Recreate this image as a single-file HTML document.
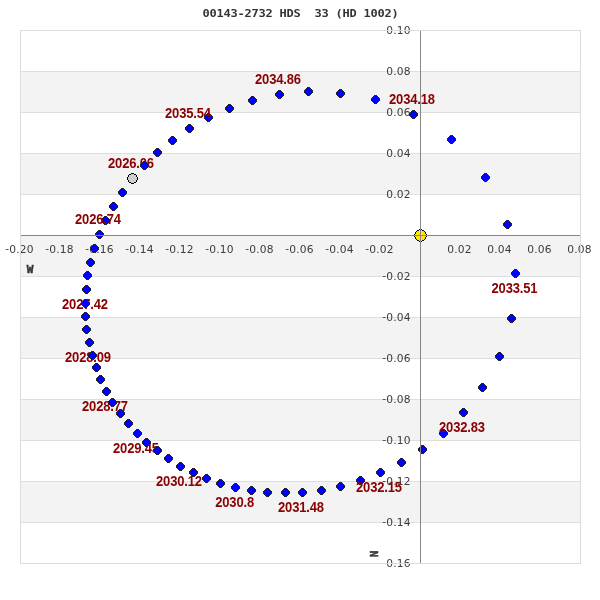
<!DOCTYPE html>
<html lang="en"><head><meta charset="utf-8"><title>00143-2732 HDS 33 (HD 1002)</title>
<style>
html,body{margin:0;padding:0;background:#fff;}
body{width:600px;height:600px;overflow:hidden;}
svg{display:block;}
.ax{font-family:"DejaVu Sans","Liberation Sans",sans-serif;font-size:10.67px;fill:#3c3c3c;letter-spacing:0.15px;}
.dl{font-family:"Liberation Sans",Arial,sans-serif;font-weight:bold;font-size:14px;fill:#8b0000;letter-spacing:-0.163px;}
.tt{font-family:"DejaVu Sans Mono","Liberation Mono",monospace;font-weight:bold;font-size:12px;fill:#333;letter-spacing:-0.225px;white-space:pre;}
.nw{font-family:"DejaVu Sans Mono","Liberation Mono",monospace;font-weight:bold;font-size:11px;fill:#333;stroke:#333;stroke-width:.45px;}
.d{fill:#0000ff;stroke:#1c1c08;stroke-opacity:.8;stroke-width:.8;}
</style></head><body>
<svg width="600" height="600" viewBox="0 0 600 600">
<defs><g id="dm" shape-rendering="crispEdges"><rect x="-1.5" y="-4.5" width="3" height="1" fill="#28281a"/><rect x="-2.5" y="-3.5" width="5" height="1" fill="#28281a"/><rect x="-3.5" y="-2.5" width="7" height="1" fill="#28281a"/><rect x="-4.5" y="-1.5" width="9" height="1" fill="#28281a"/><rect x="-4.5" y="-0.5" width="9" height="1" fill="#28281a"/><rect x="-4.5" y="0.5" width="9" height="1" fill="#28281a"/><rect x="-3.5" y="1.5" width="7" height="1" fill="#28281a"/><rect x="-2.5" y="2.5" width="5" height="1" fill="#28281a"/><rect x="-1.5" y="3.5" width="3" height="1" fill="#28281a"/><rect x="-1.5" y="-3.5" width="3" height="1" fill="#0000ff"/><rect x="-2.5" y="-2.5" width="5" height="1" fill="#0000ff"/><rect x="-3.5" y="-1.5" width="7" height="1" fill="#0000ff"/><rect x="-3.5" y="-0.5" width="7" height="1" fill="#0000ff"/><rect x="-3.5" y="0.5" width="7" height="1" fill="#0000ff"/><rect x="-2.5" y="1.5" width="5" height="1" fill="#0000ff"/><rect x="-1.5" y="2.5" width="3" height="1" fill="#0000ff"/><rect x="-1.5" y="-4.5" width="3" height="1" fill="#0000ff" fill-opacity=".12"/><rect x="-1.5" y="3.5" width="3" height="1" fill="#0000ff" fill-opacity=".12"/><rect x="-4.5" y="-1.5" width="1" height="3" fill="#0000ff" fill-opacity=".12"/><rect x="3.5" y="-1.5" width="1" height="3" fill="#0000ff" fill-opacity=".12"/></g><g id="c6" shape-rendering="crispEdges"><rect x="-1.5" y="-6.5" width="3" height="1" fill="#0c0c18"/><rect x="-3.5" y="-5.5" width="7" height="1" fill="#0c0c18"/><rect x="-4.5" y="-4.5" width="9" height="1" fill="#0c0c18"/><rect x="-5.5" y="-3.5" width="11" height="1" fill="#0c0c18"/><rect x="-5.5" y="-2.5" width="11" height="1" fill="#0c0c18"/><rect x="-6.5" y="-1.5" width="13" height="1" fill="#0c0c18"/><rect x="-6.5" y="-0.5" width="13" height="1" fill="#0c0c18"/><rect x="-6.5" y="0.5" width="13" height="1" fill="#0c0c18"/><rect x="-5.5" y="1.5" width="11" height="1" fill="#0c0c18"/><rect x="-5.5" y="2.5" width="11" height="1" fill="#0c0c18"/><rect x="-4.5" y="3.5" width="9" height="1" fill="#0c0c18"/><rect x="-3.5" y="4.5" width="7" height="1" fill="#0c0c18"/><rect x="-1.5" y="5.5" width="3" height="1" fill="#0c0c18"/><rect x="-1.5" y="-5.5" width="3" height="1" fill="#ffe600"/><rect x="-3.5" y="-4.5" width="7" height="1" fill="#ffe600"/><rect x="-4.5" y="-3.5" width="9" height="1" fill="#ffe600"/><rect x="-4.5" y="-2.5" width="9" height="1" fill="#ffe600"/><rect x="-5.5" y="-1.5" width="11" height="1" fill="#ffe600"/><rect x="-5.5" y="-0.5" width="11" height="1" fill="#ffe600"/><rect x="-5.5" y="0.5" width="11" height="1" fill="#ffe600"/><rect x="-4.5" y="1.5" width="9" height="1" fill="#ffe600"/><rect x="-4.5" y="2.5" width="9" height="1" fill="#ffe600"/><rect x="-3.5" y="3.5" width="7" height="1" fill="#ffe600"/><rect x="-1.5" y="4.5" width="3" height="1" fill="#ffe600"/></g><g id="c5" shape-rendering="crispEdges"><rect x="-1.5" y="-5.5" width="3" height="1" fill="#000"/><rect x="-3.5" y="-4.5" width="7" height="1" fill="#000"/><rect x="-4.5" y="-3.5" width="9" height="1" fill="#000"/><rect x="-4.5" y="-2.5" width="9" height="1" fill="#000"/><rect x="-5.5" y="-1.5" width="11" height="1" fill="#000"/><rect x="-5.5" y="-0.5" width="11" height="1" fill="#000"/><rect x="-5.5" y="0.5" width="11" height="1" fill="#000"/><rect x="-4.5" y="1.5" width="9" height="1" fill="#000"/><rect x="-4.5" y="2.5" width="9" height="1" fill="#000"/><rect x="-3.5" y="3.5" width="7" height="1" fill="#000"/><rect x="-1.5" y="4.5" width="3" height="1" fill="#000"/><rect x="-1.5" y="-4.5" width="3" height="1" fill="#d2cecd"/><rect x="-3.5" y="-3.5" width="7" height="1" fill="#d2cecd"/><rect x="-3.5" y="-2.5" width="7" height="1" fill="#d2cecd"/><rect x="-4.5" y="-1.5" width="9" height="1" fill="#d2cecd"/><rect x="-4.5" y="-0.5" width="9" height="1" fill="#d2cecd"/><rect x="-4.5" y="0.5" width="9" height="1" fill="#d2cecd"/><rect x="-3.5" y="1.5" width="7" height="1" fill="#d2cecd"/><rect x="-3.5" y="2.5" width="7" height="1" fill="#d2cecd"/><rect x="-1.5" y="3.5" width="3" height="1" fill="#d2cecd"/></g></defs>
<rect x="0" y="0" width="600" height="600" fill="#fff"/>
<rect x="20" y="71" width="561" height="41" fill="#f3f3f3"/>
<rect x="20" y="153" width="561" height="41" fill="#f3f3f3"/>
<rect x="20" y="235" width="561" height="41" fill="#f3f3f3"/>
<rect x="20" y="317" width="561" height="41" fill="#f3f3f3"/>
<rect x="20" y="399" width="561" height="41" fill="#f3f3f3"/>
<rect x="20" y="481" width="561" height="41" fill="#f3f3f3"/>
<rect x="20" y="71" width="561" height="1" fill="#dedede"/>
<rect x="20" y="112" width="561" height="1" fill="#dedede"/>
<rect x="20" y="153" width="561" height="1" fill="#dedede"/>
<rect x="20" y="194" width="561" height="1" fill="#dedede"/>
<rect x="20" y="276" width="561" height="1" fill="#dedede"/>
<rect x="20" y="317" width="561" height="1" fill="#dedede"/>
<rect x="20" y="358" width="561" height="1" fill="#dedede"/>
<rect x="20" y="399" width="561" height="1" fill="#dedede"/>
<rect x="20" y="440" width="561" height="1" fill="#dedede"/>
<rect x="20" y="481" width="561" height="1" fill="#dedede"/>
<rect x="20" y="522" width="561" height="1" fill="#dedede"/>
<text class="tt" transform="translate(202.6,17) scale(1,0.91)" xml:space="preserve">00143-2732 HDS  33 (HD 1002)</text>
<text class="ax" x="19.5" y="253" text-anchor="middle"><tspan dy="-0.7">-</tspan><tspan dy="0.7">0.20</tspan></text>
<text class="ax" x="59.5" y="253" text-anchor="middle"><tspan dy="-0.7">-</tspan><tspan dy="0.7">0.18</tspan></text>
<text class="ax" x="99.5" y="253" text-anchor="middle"><tspan dy="-0.7">-</tspan><tspan dy="0.7">0.16</tspan></text>
<text class="ax" x="139.5" y="253" text-anchor="middle"><tspan dy="-0.7">-</tspan><tspan dy="0.7">0.14</tspan></text>
<text class="ax" x="179.5" y="253" text-anchor="middle"><tspan dy="-0.7">-</tspan><tspan dy="0.7">0.12</tspan></text>
<text class="ax" x="219.5" y="253" text-anchor="middle"><tspan dy="-0.7">-</tspan><tspan dy="0.7">0.10</tspan></text>
<text class="ax" x="259.5" y="253" text-anchor="middle"><tspan dy="-0.7">-</tspan><tspan dy="0.7">0.08</tspan></text>
<text class="ax" x="299.5" y="253" text-anchor="middle"><tspan dy="-0.7">-</tspan><tspan dy="0.7">0.06</tspan></text>
<text class="ax" x="339.5" y="253" text-anchor="middle"><tspan dy="-0.7">-</tspan><tspan dy="0.7">0.04</tspan></text>
<text class="ax" x="379.5" y="253" text-anchor="middle"><tspan dy="-0.7">-</tspan><tspan dy="0.7">0.02</tspan></text>
<text class="ax" x="459.5" y="253" text-anchor="middle">0.02</text>
<text class="ax" x="499.5" y="253" text-anchor="middle">0.04</text>
<text class="ax" x="539.5" y="253" text-anchor="middle">0.06</text>
<text class="ax" x="579.5" y="253" text-anchor="middle">0.08</text>
<text class="ax" x="410.6" y="567" text-anchor="end"><tspan dy="-0.7">-</tspan><tspan dy="0.7">0.16</tspan></text>
<text class="ax" x="410.6" y="526" text-anchor="end"><tspan dy="-0.7">-</tspan><tspan dy="0.7">0.14</tspan></text>
<text class="ax" x="410.6" y="485" text-anchor="end"><tspan dy="-0.7">-</tspan><tspan dy="0.7">0.12</tspan></text>
<text class="ax" x="410.6" y="444" text-anchor="end"><tspan dy="-0.7">-</tspan><tspan dy="0.7">0.10</tspan></text>
<text class="ax" x="410.6" y="403" text-anchor="end"><tspan dy="-0.7">-</tspan><tspan dy="0.7">0.08</tspan></text>
<text class="ax" x="410.6" y="362" text-anchor="end"><tspan dy="-0.7">-</tspan><tspan dy="0.7">0.06</tspan></text>
<text class="ax" x="410.6" y="321" text-anchor="end"><tspan dy="-0.7">-</tspan><tspan dy="0.7">0.04</tspan></text>
<text class="ax" x="410.6" y="280" text-anchor="end"><tspan dy="-0.7">-</tspan><tspan dy="0.7">0.02</tspan></text>
<text class="ax" x="410.6" y="198" text-anchor="end">0.02</text>
<text class="ax" x="410.6" y="157" text-anchor="end">0.04</text>
<text class="ax" x="410.6" y="116" text-anchor="end">0.06</text>
<text class="ax" x="410.6" y="75" text-anchor="end">0.08</text>
<text class="ax" x="410.6" y="34" text-anchor="end">0.10</text>
<text class="nw" x="26.7" y="273">W</text>
<text class="nw" transform="translate(378,557.3) rotate(-90)">N</text>
<use href="#c6" x="420.5" y="235.5"/>
<use href="#c5" x="132.5" y="178.5"/>
<text class="dl" transform="translate(108.0,168) scale(0.93,1)">2026.06</text>
<use href="#dm" x="122.5" y="192.5"/>
<use href="#dm" x="113.5" y="206.5"/>
<use href="#dm" x="105.5" y="220.5"/>
<use href="#dm" x="99.5" y="234.5"/>
<text class="dl" transform="translate(75.0,224) scale(0.93,1)">2026.74</text>
<use href="#dm" x="94.5" y="248.5"/>
<use href="#dm" x="90.5" y="262.5"/>
<use href="#dm" x="87.5" y="275.5"/>
<use href="#dm" x="86.5" y="289.5"/>
<text class="dl" transform="translate(62.0,309) scale(0.93,1)">2027.42</text>
<use href="#dm" x="85.5" y="303.5"/>
<use href="#dm" x="85.5" y="316.5"/>
<use href="#dm" x="86.5" y="329.5"/>
<use href="#dm" x="89.5" y="342.5"/>
<text class="dl" transform="translate(65.0,362) scale(0.93,1)">2028.09</text>
<use href="#dm" x="92.5" y="355.5"/>
<use href="#dm" x="96.5" y="367.5"/>
<use href="#dm" x="100.5" y="379.5"/>
<use href="#dm" x="106.5" y="391.5"/>
<text class="dl" transform="translate(82.0,411) scale(0.93,1)">2028.77</text>
<use href="#dm" x="112.5" y="402.5"/>
<use href="#dm" x="120.5" y="413.5"/>
<use href="#dm" x="128.5" y="423.5"/>
<use href="#dm" x="137.5" y="433.5"/>
<text class="dl" transform="translate(113.0,453) scale(0.93,1)">2029.45</text>
<use href="#dm" x="146.5" y="442.5"/>
<use href="#dm" x="157.5" y="450.5"/>
<use href="#dm" x="168.5" y="458.5"/>
<use href="#dm" x="180.5" y="466.5"/>
<text class="dl" transform="translate(156.0,486) scale(0.93,1)">2030.12</text>
<use href="#dm" x="193.5" y="472.5"/>
<use href="#dm" x="206.5" y="478.5"/>
<use href="#dm" x="220.5" y="483.5"/>
<use href="#dm" x="235.5" y="487.5"/>
<text class="dl" transform="translate(215.2,507) scale(0.93,1)">2030.8</text>
<use href="#dm" x="251.5" y="490.5"/>
<use href="#dm" x="267.5" y="492.5"/>
<use href="#dm" x="285.5" y="492.5"/>
<use href="#dm" x="302.5" y="492.5"/>
<text class="dl" transform="translate(278.0,512) scale(0.93,1)">2031.48</text>
<use href="#dm" x="321.5" y="490.5"/>
<use href="#dm" x="340.5" y="486.5"/>
<use href="#dm" x="360.5" y="480.5"/>
<use href="#dm" x="380.5" y="472.5"/>
<text class="dl" transform="translate(356.0,492) scale(0.93,1)">2032.15</text>
<use href="#dm" x="401.5" y="462.5"/>
<use href="#dm" x="422.5" y="449.5"/>
<use href="#dm" x="443.5" y="433.5"/>
<use href="#dm" x="463.5" y="412.5"/>
<text class="dl" transform="translate(439.0,432) scale(0.93,1)">2032.83</text>
<use href="#dm" x="482.5" y="387.5"/>
<use href="#dm" x="499.5" y="356.5"/>
<use href="#dm" x="511.5" y="318.5"/>
<use href="#dm" x="515.5" y="273.5"/>
<text class="dl" transform="translate(491.5,293) scale(0.93,1)">2033.51</text>
<use href="#dm" x="507.5" y="224.5"/>
<use href="#dm" x="485.5" y="177.5"/>
<use href="#dm" x="451.5" y="139.5"/>
<use href="#dm" x="413.5" y="114.5"/>
<text class="dl" transform="translate(389.0,104) scale(0.93,1)">2034.18</text>
<use href="#dm" x="375.5" y="99.5"/>
<use href="#dm" x="340.5" y="93.5"/>
<use href="#dm" x="308.5" y="91.5"/>
<use href="#dm" x="279.5" y="94.5"/>
<text class="dl" transform="translate(255.0,84) scale(0.93,1)">2034.86</text>
<use href="#dm" x="252.5" y="100.5"/>
<use href="#dm" x="229.5" y="108.5"/>
<use href="#dm" x="208.5" y="117.5"/>
<use href="#dm" x="189.5" y="128.5"/>
<text class="dl" transform="translate(165.0,118) scale(0.93,1)">2035.54</text>
<use href="#dm" x="172.5" y="140.5"/>
<use href="#dm" x="157.5" y="152.5"/>
<use href="#dm" x="144.5" y="165.5"/>
<rect x="20" y="235" width="561" height="1" fill="#868686"/>
<rect x="420" y="31" width="1" height="532" fill="#868686"/>
<rect x="20.5" y="30.5" width="560" height="533" fill="none" stroke="#dcdcdc" stroke-width="1"/>
</svg>
</body></html>
